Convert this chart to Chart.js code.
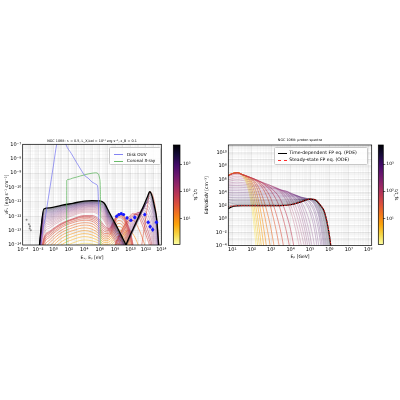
<!DOCTYPE html>
<html><head><meta charset="utf-8">
<script src="https://cdn.jsdelivr.net/npm/chart.js@4.4.1/dist/chart.umd.min.js"></script>
<style>
html,body{margin:0;padding:0;background:#fff;}
#wrap{position:relative;width:400px;height:400px;overflow:hidden;background:#fff;font-family:"DejaVu Sans",sans-serif;}
canvas{position:absolute;}
.legend{position:absolute;background:rgba(255,255,255,0.85);border:0.5px solid #c8c8c8;border-radius:1.5px;box-sizing:border-box;}
.legend .txt{position:absolute;white-space:nowrap;color:#000;line-height:5px;}
.legend .sw{position:absolute;height:0;}
</style></head>
<body><div id="wrap">
<canvas id="cL" width="168" height="145" style="left:0px;top:130px;width:168px;height:145px"></canvas>
<canvas id="cbL" width="32" height="145" style="left:168px;top:130px;width:32px;height:145px"></canvas>
<canvas id="cR" width="176" height="145" style="left:200px;top:130px;width:176px;height:145px"></canvas>
<canvas id="cbR" width="24" height="145" style="left:376px;top:130px;width:24px;height:145px"></canvas>

<div class="legend" style="left:109px;top:147px;width:52px;height:17.5px">
  <div class="sw" style="left:4px;top:6px;width:8.5px;border-top:0.8px solid rgba(100,100,240,0.8)"></div>
  <div class="txt" style="left:17px;top:3.5px;font-size:4.2px">Disk OUV</div>
  <div class="sw" style="left:4px;top:12.5px;width:8.5px;border-top:0.8px solid rgba(80,175,80,0.85)"></div>
  <div class="txt" style="left:17px;top:10px;font-size:4.2px">Coronal X-ray</div>
</div>
<div class="legend" style="left:274px;top:146.7px;width:94px;height:18.3px">
  <div class="sw" style="left:2.7px;top:5px;width:9.3px;border-top:1px solid #000"></div>
  <div class="txt" style="left:14.3px;top:2.5px;font-size:4.6px">Time-dependent FP eq. (PDE)</div>
  <div class="sw" style="left:2.7px;top:12.3px;width:9.3px;border-top:0.9px dashed #ff2a2a"></div>
  <div class="txt" style="left:14.3px;top:9.8px;font-size:4.6px">Steady-state FP eq. (ODE)</div>
</div>
</div>
<script>
// ================= DATA (log10 values) =================
// ---- Left panel: SED, x = log10(E / eV), y = log10(νFν / erg s^-1 cm^-2)
const diskLogE   = [-1.75, -1.62, -1.0, 0.0, 0.42, 0.9, 1.3, 1.6, 2.3, 3.0, 3.6, 4.1, 4.5, 5.0, 5.6, 5.75, 5.85, 5.95];
const diskLogF   = [-15, -14, -11.87, -8.44, -7.0, -6.3, -6.4, -7.0, -7.63, -8.27, -8.8, -9.2, -9.35, -9.62, -9.8, -10.0, -11.5, -16];
const coronaLogE = [1.70, 1.72, 1.9, 2.5, 3.0, 3.5, 4.0, 4.5, 5.0, 5.5, 5.8, 6.0, 6.1, 6.15];
const coronaLogF = [-16, -9.5, -9.45, -9.35, -9.28, -9.2, -9.13, -9.06, -9.01, -8.98, -9.05, -9.4, -10.5, -16];

// photon (gamma) spectra at successive times, log10(t/t_fs) in gammaLogT
const gammaLogE  = [-2.0, -1.25, -0.5, 1, 2.5, 4, 5, 6, 6.6, 7.2, 7.8, 8.4, 9.0, 9.6, 10.2, 10.8];
const gammaLogT  = [0.4, 0.55, 0.7, 0.82, 0.95, 1.08, 1.2, 1.33, 1.45, 1.52, 1.6, 1.68, 1.75, 1.9, 1.97, 2.05, 2.15, 2.25, 2.35, 2.45, 2.55, 2.65, 2.75, 2.85, 2.95, 3.05, 3.15, 3.25, 3.35, 3.45, 3.55];
const gammaLogF  = [
  [-16, -15.8, -15.3, -14.5, -14.1, -13.88, -13.92, -14.05, -14.2, -14.25, -14.0, -13.9, -14.1, -15.0, -16, -16],
  [-16, -15.55, -15.05, -14.25, -13.86, -13.65, -13.71, -13.9, -14.08, -14.1, -13.82, -13.65, -13.85, -14.7, -16, -16],
  [-16, -15.3, -14.8, -14.0, -13.62, -13.42, -13.5, -13.75, -13.95, -13.95, -13.65, -13.4, -13.6, -14.4, -16, -16],
  [-16, -15.05, -14.55, -13.78, -13.41, -13.21, -13.3, -13.58, -13.82, -13.8, -13.48, -13.18, -13.35, -14.15, -15.65, -16],
  [-16, -14.8, -14.3, -13.55, -13.2, -13.0, -13.1, -13.4, -13.7, -13.65, -13.3, -12.95, -13.1, -13.9, -15.3, -16],
  [-16, -14.58, -14.08, -13.35, -13.0, -12.81, -12.9, -13.25, -13.58, -13.52, -13.12, -12.72, -12.88, -13.65, -15.05, -16],
  [-16, -14.35, -13.85, -13.15, -12.8, -12.62, -12.7, -13.1, -13.45, -13.4, -12.95, -12.5, -12.65, -13.4, -14.8, -16],
  [-16, -14.15, -13.65, -12.98, -12.62, -12.45, -12.52, -12.95, -13.32, -13.3, -12.82, -12.3, -12.42, -13.18, -14.5, -16],
  [-16, -13.95, -13.45, -12.8, -12.45, -12.28, -12.35, -12.8, -13.2, -13.2, -12.7, -12.1, -12.2, -12.95, -14.2, -16],
  [-16, -13.82, -13.32, -12.7, -12.35, -12.17, -12.23, -12.65, -13.05, -13.1, -12.6, -12.0, -12.1, -12.82, -14.05, -16],
  [-16, -13.7, -13.2, -12.6, -12.25, -12.07, -12.12, -12.5, -12.9, -13.0, -12.5, -11.9, -12.0, -12.7, -13.9, -16],
  [-16, -13.6, -13.12, -12.55, -12.21, -12.01, -12.03, -12.37, -12.77, -12.92, -12.42, -11.87, -11.95, -12.6, -13.75, -15.8],
  [-16, -13.5, -13.05, -12.5, -12.18, -11.95, -11.95, -12.25, -12.65, -12.85, -12.35, -11.85, -11.9, -12.5, -13.6, -15.5],
  [-15.5, -13.2, -12.82, -12.3, -11.96, -11.73, -11.72, -11.95, -12.35, -13.0, -13.6, -14.2, -14.8, -15.4, -16, -16],
  [-15.5, -13.02, -12.68, -12.2, -11.88, -11.65, -11.64, -11.85, -12.23, -12.88, -13.48, -14.08, -14.7, -15.3, -16, -16],
  [-15.5, -12.85, -12.55, -12.1, -11.8, -11.58, -11.56, -11.75, -12.12, -12.77, -13.37, -13.97, -14.6, -15.2, -16, -16],
  [-15.2, -12.71, -12.44, -12.02, -11.73, -11.52, -11.5, -11.66, -12.02, -12.67, -13.27, -13.87, -14.5, -15.1, -15.8, -16],
  [-15, -12.58, -12.33, -11.94, -11.66, -11.46, -11.43, -11.58, -11.92, -12.57, -13.17, -13.77, -14.4, -15, -15.6, -16],
  [-15, -12.47, -12.24, -11.87, -11.6, -11.4, -11.37, -11.51, -11.83, -12.48, -13.08, -13.68, -14.32, -14.95, -15.55, -16],
  [-15, -12.36, -12.15, -11.8, -11.55, -11.35, -11.32, -11.44, -11.75, -12.4, -13.0, -13.6, -14.25, -14.9, -15.5, -16],
  [-15, -12.26, -12.07, -11.74, -11.5, -11.3, -11.27, -11.38, -11.67, -12.32, -12.92, -13.52, -14.17, -14.82, -15.45, -16],
  [-15, -12.17, -11.99, -11.68, -11.45, -11.26, -11.23, -11.32, -11.6, -12.25, -12.85, -13.45, -14.1, -14.75, -15.4, -16],
  [-15, -12.08, -11.92, -11.62, -11.4, -11.22, -11.19, -11.27, -11.53, -12.18, -12.78, -13.38, -14.03, -14.68, -15.35, -16],
  [-15, -12.0, -11.85, -11.57, -11.36, -11.18, -11.15, -11.22, -11.47, -12.12, -12.72, -13.32, -13.97, -14.6, -15.3, -16],
  [-15, -11.92, -11.78, -11.52, -11.32, -11.14, -11.11, -11.17, -11.41, -12.06, -12.66, -13.26, -13.91, -14.55, -15.25, -16],
  [-15, -11.85, -11.72, -11.47, -11.28, -11.11, -11.08, -11.13, -11.36, -12.0, -12.6, -13.2, -13.85, -14.5, -15.2, -16],
  [-15, -11.78, -11.66, -11.42, -11.24, -11.08, -11.05, -11.09, -11.31, -11.95, -12.55, -13.15, -13.8, -14.45, -15.15, -16],
  [-15, -11.72, -11.6, -11.38, -11.21, -11.05, -11.02, -11.05, -11.26, -11.9, -12.5, -13.1, -13.75, -14.4, -15.1, -16],
  [-15, -11.66, -11.55, -11.34, -11.18, -11.02, -10.99, -11.01, -11.21, -11.85, -12.45, -13.05, -13.7, -14.35, -15.05, -16],
  [-15, -11.6, -11.5, -11.31, -11.15, -11.0, -10.97, -10.98, -11.17, -11.8, -12.4, -13.0, -13.65, -14.3, -15, -16],
  [-15, -11.55, -11.46, -11.28, -11.12, -10.97, -10.94, -10.95, -11.13, -11.75, -12.35, -12.95, -13.6, -14.25, -15, -16]
];
const gammaFinalLogF = [-15, -11.5, -11.42, -11.25, -11.1, -10.95, -10.92, -10.93, -11.1, -11.7, -12.3, -12.9, -13.55, -14.2, -15, -16];

// neutrino spectra at successive times
const nuLogE = [8.0, 8.6, 9.2, 9.8, 10.4, 11.0, 11.6, 12.2, 12.5, 12.8, 13.1, 13.4, 13.6, 13.8];
const nuLogT = [0.9, 1.3, 1.5, 1.6, 1.72, 1.85, 1.97, 2.1, 2.25, 2.4, 2.55, 2.7, 2.85, 3.0, 3.15, 3.3, 3.5];
const nuLogF = [
  [-14.6, -13.8, -13.2, -13.0, -13.3, -14.0, -15.0, -16, -16, -16, -16, -16, -16, -16],
  [-14.0, -13.3, -12.7, -12.3, -12.3, -12.8, -13.6, -14.6, -15.2, -16, -16, -16, -16, -16],
  [-17, -17, -17, -17, -16.5, -15.5, -13.5, -11.3, -10.3, -10.45, -11.0, -12.1, -13.3, -14.8],
  [-13.9, -13.2, -12.6, -12.05, -11.8, -12.0, -12.7, -13.6, -14.1, -14.9, -16, -16, -16, -16],
  [-14.05, -13.38, -12.78, -12.22, -11.88, -11.88, -12.4, -13.25, -13.75, -14.5, -15.65, -16, -16, -16],
  [-14.2, -13.55, -12.95, -12.4, -11.95, -11.75, -12.1, -12.9, -13.4, -14.1, -15.3, -16, -16, -16],
  [-14.4, -13.75, -13.15, -12.58, -12.08, -11.75, -11.9, -12.55, -13.02, -13.7, -14.85, -16, -16, -16],
  [-14.6, -13.95, -13.35, -12.75, -12.2, -11.75, -11.7, -12.2, -12.65, -13.3, -14.4, -16, -16, -16],
  [-14.8, -14.12, -13.5, -12.88, -12.32, -11.82, -11.58, -11.85, -12.25, -12.85, -13.9, -15.4, -16, -16],
  [-15.0, -14.3, -13.65, -13.0, -12.45, -11.9, -11.45, -11.5, -11.85, -12.4, -13.4, -14.8, -16, -16],
  [-15.15, -14.45, -13.78, -13.12, -12.55, -11.98, -11.45, -11.28, -11.5, -12.0, -12.92, -14.25, -15.6, -16],
  [-15.3, -14.6, -13.9, -13.25, -12.65, -12.05, -11.45, -11.05, -11.15, -11.6, -12.45, -13.7, -15.2, -16],
  [-15.45, -14.75, -14.05, -13.38, -12.75, -12.12, -11.5, -11.0, -10.95, -11.35, -12.15, -13.3, -14.8, -16],
  [-15.6, -14.9, -14.2, -13.5, -12.85, -12.2, -11.55, -10.95, -10.75, -11.1, -11.85, -12.9, -14.4, -16],
  [-15.75, -15.05, -14.32, -13.6, -12.92, -12.25, -11.58, -10.9, -10.62, -10.95, -11.68, -12.65, -14.1, -15.6],
  [-15.9, -15.2, -14.45, -13.7, -13.0, -12.3, -11.6, -10.85, -10.5, -10.8, -11.5, -12.4, -13.8, -15.2],
  [-15.8, -15.1, -14.35, -13.6, -12.9, -12.2, -11.5, -10.75, -10.4, -10.7, -11.4, -12.3, -13.7, -15.1]
];
const nuFinalLogF = [-15.7, -15.0, -14.25, -13.5, -12.8, -12.1, -11.4, -10.65, -10.3, -10.6, -11.3, -12.2, -13.6, -15];

// observed points
const fermiLogE = [8.2, 8.5, 8.8, 9.1, 9.55, 10.05, 10.55];
const fermiLogF = [-12.0, -11.88, -11.82, -11.88, -12.12, -12.28, -12.08];
const fermiErr  = [0.12, 0.08, 0.07, 0.08, 0.1, 0.12, 0.15];
const magicLogE = [11.85, 12.3, 12.55, 12.88, 13.37];
const magicLogF = [-11.88, -12.42, -12.72, -12.93, -12.42];
const magicErr  = [0.14, 0.14, 0.15, 0.17, 0.16];
const radioLogE = [-3.5, -3.2, -3.05, -3.1, -2.95];
const radioLogF = [-12.25, -12.55, -12.7, -12.85, -12.98];

// ---- Right panel: proton spectra, x = log10(E_p / GeV), y = log10(E dN/dE/dV / cm^-3)
const protonLogE = [0.75, 1.0, 1.25, 1.5, 1.75, 2.0, 2.25, 2.5, 2.75, 3.0, 3.5, 4.0, 4.5, 5.0, 5.25, 5.5, 5.75, 6.0, 6.25];
const protonLogT = [0.25, 0.38, 0.5, 0.65, 0.8, 0.95, 1.1, 1.25, 1.4, 1.55, 1.7, 1.85, 2.0, 2.1, 2.2, 2.3, 2.4, 2.47, 2.55, 2.62, 2.7, 2.77, 2.85, 2.92, 3.0, 3.07, 3.15, 3.22, 3.3, 3.4, 3.5, 3.6];
const protonLogN = [
  [6.5, 6.85, 7.0, 6.55, 5.2, 1.8, -5, -14, -20, -20, -20, -20, -20, -20, -20, -20, -20, -20, -20],
  [6.5, 6.85, 7.0, 6.62, 5.6, 2.9, -2.6, -10, -17, -20, -20, -20, -20, -20, -20, -20, -20, -20, -20],
  [6.5, 6.85, 7.0, 6.68, 5.9, 3.8, -0.5, -7, -15, -20, -20, -20, -20, -20, -20, -20, -20, -20, -20],
  [6.5, 6.85, 7.0, 6.7, 6.12, 4.6, 1.2, -4.2, -11, -17, -20, -20, -20, -20, -20, -20, -20, -20, -20],
  [6.5, 6.85, 7.0, 6.72, 6.3, 5.2, 2.8, -1.5, -7.5, -15, -20, -20, -20, -20, -20, -20, -20, -20, -20],
  [6.5, 6.85, 7.0, 6.73, 6.37, 5.6, 3.9, 0.6, -4, -10, -18, -20, -20, -20, -20, -20, -20, -20, -20],
  [6.5, 6.85, 7.0, 6.73, 6.42, 5.9, 4.8, 2.6, -0.8, -5, -16, -20, -20, -20, -20, -20, -20, -20, -20],
  [6.5, 6.85, 7.0, 6.73, 6.44, 6.05, 5.3, 3.8, 1.5, -1.6, -10.5, -18, -20, -20, -20, -20, -20, -20, -20],
  [6.5, 6.85, 7.0, 6.73, 6.46, 6.15, 5.7, 4.9, 3.6, 1.5, -5.5, -16, -20, -20, -20, -20, -20, -20, -20],
  [6.5, 6.85, 7.0, 6.73, 6.47, 6.18, 5.82, 5.25, 4.35, 3.0, -2.0, -10.5, -18, -20, -20, -20, -20, -20, -20],
  [6.5, 6.85, 6.99, 6.73, 6.47, 6.2, 5.9, 5.5, 4.95, 4.2, 1.2, -5, -15, -20, -20, -20, -20, -20, -20],
  [6.42, 6.75, 6.88, 6.68, 6.44, 6.18, 5.9, 5.56, 5.15, 4.65, 2.8, -1.6, -10, -18, -20, -20, -20, -20, -20],
  [6.3, 6.6, 6.72, 6.6, 6.4, 6.15, 5.88, 5.6, 5.32, 5.0, 4.0, 1.2, -5, -15, -20, -20, -20, -20, -20],
  [6.1, 6.35, 6.46, 6.38, 6.2, 6.0, 5.78, 5.54, 5.29, 5.01, 4.2, 2.1, -3.2, -12.5, -20, -20, -20, -20, -20],
  [5.9, 6.1, 6.2, 6.15, 6.0, 5.85, 5.68, 5.48, 5.26, 5.02, 4.35, 2.9, -1.5, -10, -20, -20, -20, -20, -20],
  [5.65, 5.8, 5.88, 5.82, 5.71, 5.58, 5.44, 5.27, 5.09, 4.9, 4.38, 3.3, -0.2, -8, -16, -20, -20, -20, -20],
  [5.4, 5.5, 5.55, 5.5, 5.42, 5.32, 5.2, 5.06, 4.92, 4.77, 4.4, 3.7, 1.0, -6, -12, -20, -20, -20, -20],
  [5.2, 5.28, 5.3, 5.27, 5.2, 5.12, 5.02, 4.92, 4.8, 4.68, 4.38, 3.82, 1.75, -4.2, -9.5, -17, -20, -20, -20],
  [5.0, 5.05, 5.06, 5.03, 4.98, 4.92, 4.85, 4.77, 4.68, 4.58, 4.35, 3.95, 2.5, -2.5, -7, -14, -20, -20, -20],
  [4.75, 4.78, 4.79, 4.77, 4.72, 4.68, 4.62, 4.56, 4.48, 4.4, 4.22, 3.9, 2.85, -0.7, -4.5, -10.8, -17.5, -20, -20],
  [4.5, 4.52, 4.52, 4.5, 4.47, 4.43, 4.39, 4.34, 4.29, 4.23, 4.08, 3.85, 3.2, 1.0, -2.0, -7.5, -15, -20, -20],
  [4.25, 4.27, 4.27, 4.25, 4.22, 4.2, 4.16, 4.12, 4.08, 4.03, 3.92, 3.74, 3.28, 1.65, -0.65, -5.1, -12, -19, -20],
  [4.0, 4.02, 4.02, 4.0, 3.98, 3.96, 3.93, 3.9, 3.87, 3.84, 3.76, 3.62, 3.35, 2.3, 0.7, -2.8, -9, -18, -20],
  [3.72, 3.76, 3.76, 3.75, 3.74, 3.72, 3.7, 3.68, 3.66, 3.64, 3.58, 3.5, 3.32, 2.58, 1.35, -1.55, -7.2, -16, -20],
  [3.45, 3.5, 3.5, 3.5, 3.49, 3.48, 3.47, 3.46, 3.45, 3.44, 3.41, 3.37, 3.3, 2.85, 2.0, -0.3, -5.5, -14, -20],
  [3.2, 3.25, 3.26, 3.26, 3.25, 3.24, 3.23, 3.23, 3.22, 3.21, 3.2, 3.18, 3.18, 2.9, 2.2, 0.25, -4.2, -12, -20],
  [2.95, 3.0, 3.02, 3.02, 3.02, 3.01, 3.0, 3.0, 2.99, 2.99, 2.99, 3.0, 3.05, 2.95, 2.4, 0.8, -3.0, -10, -20],
  [2.7, 2.78, 2.8, 2.8, 2.8, 2.8, 2.79, 2.79, 2.78, 2.78, 2.8, 2.84, 2.98, 2.98, 2.52, 1.2, -2.0, -8.2, -17.5],
  [2.45, 2.55, 2.58, 2.58, 2.58, 2.58, 2.58, 2.58, 2.58, 2.58, 2.6, 2.68, 2.9, 3.0, 2.65, 1.6, -1.0, -6.5, -15],
  [2.18, 2.33, 2.39, 2.4, 2.4, 2.4, 2.4, 2.4, 2.4, 2.4, 2.42, 2.53, 2.8, 3.0, 2.75, 1.8, -0.35, -5.1, -13],
  [1.9, 2.1, 2.2, 2.22, 2.22, 2.22, 2.22, 2.22, 2.22, 2.22, 2.25, 2.38, 2.7, 3.0, 2.85, 2.0, 0.3, -3.8, -11],
  [1.7, 1.98, 2.08, 2.11, 2.11, 2.11, 2.11, 2.11, 2.11, 2.11, 2.13, 2.26, 2.62, 3.0, 2.88, 2.1, 0.65, -3.1, -9.7]
];
const protonFinalLogN  = [1.5, 1.85, 1.97, 2.0, 2.0, 2.0, 2.0, 2.0, 2.0, 2.0, 2.02, 2.15, 2.55, 3.0, 2.92, 2.2, 1.0, -2.5, -8.5];
const protonSteadyLogN = [1.85, 1.95, 2.0, 2.0, 2.0, 2.0, 2.0, 2.0, 2.0, 2.0, 2.02, 2.15, 2.55, 3.0, 2.95, 2.25, 1.05, -2.4, -8.4];

// ---- tick labels (exponents) and colorbar range
const leftXTickExps  = [-4, -2, 0, 2, 4, 6, 8, 10, 12, 14];
const leftYTickExps  = [-14, -13, -12, -11, -10, -9, -8, -7];
const rightXTickExps = [1, 2, 3, 4, 5, 6, 7, 8];
const rightYTickExps = [-4, -2, 0, 2, 4, 6, 8, 10];
const cbarTickExps   = [1, 2, 3];
const cbarMin = 1.1, cbarMax = 5000;

// ================= STYLE / HELPERS =================
const FONT = 'DejaVu Sans';
Chart.defaults.font.family = FONT;
Chart.defaults.color = '#000';
const INFERNO = [[0,0,4],[22,11,57],[66,10,104],[106,23,110],[147,38,103],[188,55,84],[221,81,58],[243,120,25],[252,165,10],[246,215,70],[252,255,164]];
function inferno(f){ f=Math.min(1,Math.max(0,f)); const p=f*10; const i=Math.min(9,Math.floor(p)); const t=p-i; const a=INFERNO[i], b=INFERNO[i+1]; return a.map((v,k)=>Math.round(v+(b[k]-v)*t)); }
const CB_LO = Math.log10(cbarMin), CB_HI = Math.log10(cbarMax);
function timeColor(logT, alpha){ const c = inferno(1 - (logT - CB_LO)/(CB_HI - CB_LO)); return `rgba(${c[0]},${c[1]},${c[2]},${alpha})`; }
const SUP = {'-':'⁻','0':'⁰','1':'¹','2':'²','3':'³','4':'⁴','5':'⁵','6':'⁶','7':'⁷','8':'⁸','9':'⁹'};
const sup = n => String(n).split('').map(c=>SUP[c]).join('');
function isDecade(v){ const e=Math.log10(v); return Math.abs(e-Math.round(e))<1e-6; }
function gridTicks(lo, hi, min, max){ const t=[]; for(let e=lo;e<=hi;e++){ for(let m=1;m<10;m++){ const v=m*Math.pow(10,e); if(v>=min*0.999999 && v<=max*1.000001) t.push({value:v}); } } return t; }
function labelCb(exps){ return v => { if(!isDecade(v)) return ''; const e=Math.round(Math.log10(v)); return exps.includes(e) ? '10'+sup(e) : ''; }; }
const gridColor = ctx => (ctx.tick && isDecade(ctx.tick.value)) ? 'rgba(0,0,0,0.13)' : 'rgba(0,0,0,0.05)';
const pts = (xs, ys) => xs.map((x,i)=>({x: Math.pow(10,x), y: Math.pow(10, ys[i])}));

function line(xs, ys, color, width, order, extra){
  return Object.assign({ data: pts(xs, ys), borderColor: color, borderWidth: width, pointRadius: 0,
    cubicInterpolationMode: 'monotone', fill: false, order: order }, extra || {});
}
function family(xs, rows, taus){
  return rows.map((r,i)=>line(xs, r, timeColor(taus[i], taus[i] < 1.9 ? 0.7 : 0.45), taus[i] < 1.9 ? 0.8 : 0.6, 100 - Math.round(taus[i]*10)));
}
const framePlugin = { id:'frame', afterDatasetsDraw(chart){ const {ctx, chartArea:a} = chart; ctx.save(); ctx.strokeStyle='#000'; ctx.lineWidth=0.7; ctx.strokeRect(a.left, a.top, a.right-a.left, a.bottom-a.top); ctx.restore(); } };

function logAxis(opts){
  return { type:'logarithmic', min: opts.min, max: opts.max, position: opts.position,
    afterBuildTicks: s => { s.ticks = gridTicks(opts.lo, opts.hi, opts.min, opts.max); },
    afterFit: opts.fit,
    ticks: { autoSkip:false, maxRotation:0, minRotation:0, padding:1.5, font:{family:FONT,size:5}, color:'#000', callback: labelCb(opts.exps) },
    grid: { color: gridColor, lineWidth: 0.5, drawTicks: false },
    border: { display:false },
    title: { display:true, text: opts.title, font:{family:FONT,size:4.5}, color:'#000', padding: opts.tpad } };
}

// ================= LEFT PANEL =================
const leftSets = [];
leftSets.push(...family(gammaLogE, gammaLogF, gammaLogT));
leftSets.push(...family(nuLogE, nuLogF, nuLogT));
leftSets.push(line(gammaLogE, gammaFinalLogF, '#000', 1.3, 3));
leftSets.push(line(nuLogE, nuFinalLogF, '#000', 1.3, 3));
leftSets.push(line(diskLogE, diskLogF, 'rgba(100,100,240,0.8)', 0.8, 2));
leftSets.push(line(coronaLogE, coronaLogF, 'rgba(80,175,80,0.85)', 0.8, 2));
fermiLogE.forEach((x,i)=>leftSets.push(line([x,x],[fermiLogF[i]-fermiErr[i], fermiLogF[i]+fermiErr[i]], '#1a1aff', 0.7, 1, {cubicInterpolationMode:'default', tension:0})));
magicLogE.forEach((x,i)=>leftSets.push(line([x,x],[magicLogF[i]-magicErr[i], magicLogF[i]+magicErr[i]], '#1a1aff', 0.7, 1, {cubicInterpolationMode:'default', tension:0})));
leftSets.push({ data: pts(fermiLogE.concat(magicLogE), fermiLogF.concat(magicLogF)), showLine:false, pointRadius:1.6, pointBorderWidth:0, pointBackgroundColor:'#1a1aff', order:0 });
leftSets.push({ data: pts(radioLogE, radioLogF), showLine:false, pointRadius:1.0, pointBorderWidth:0, pointBackgroundColor:'#8a8a8a', order:0 });

new Chart(document.getElementById('cL'), {
  type:'line', data:{ datasets: leftSets },
  options:{ responsive:false, animation:false, devicePixelRatio:1,
    layout:{ padding:{ left:0, right:6.3, top:0, bottom:0 } },
    plugins:{ legend:{display:false}, tooltip:{enabled:false},
      title:{ display:true, fullSize:false, text:'NGC 1068: rₜ = 0.5, L_X,bol = 10⁴⁴ erg s⁻¹, ε_B = 0.1', font:{family:FONT,size:3.4,weight:'normal'}, color:'#000', padding:{top:8.96,bottom:1.26} } },
    scales:{
      x: logAxis({min:1e-4, max:1e14, lo:-4, hi:14, exps:leftXTickExps, position:'bottom', fit: s=>{ s.height = 30; }, title:'Eᵥ, Eᵧ [eV]', tpad:{top:0,bottom:14.8}}),
      y: logAxis({min:1e-14, max:1e-7, lo:-14, hi:-7, exps:leftYTickExps, position:'left', fit: s=>{ s.width = 22.7; }, title:'νFᵥ [erg s⁻¹ cm⁻²]', tpad:{top:4.36,bottom:0}})
    } },
  plugins:[framePlugin]
});

// ================= RIGHT PANEL =================
const rightSets = [];
rightSets.push(...family(protonLogE, protonLogN, protonLogT));
rightSets.push(line(protonLogE, protonFinalLogN, '#000', 1.2, 3));
rightSets.push(line(protonLogE, protonSteadyLogN, '#ff2a2a', 0.9, 2, {borderDash:[1.6,1.1]}));

new Chart(document.getElementById('cR'), {
  type:'line', data:{ datasets: rightSets },
  options:{ responsive:false, animation:false, devicePixelRatio:1,
    layout:{ padding:{ left:0, right:4.3, top:0, bottom:0 } },
    plugins:{ legend:{display:false}, tooltip:{enabled:false},
      title:{ display:true, fullSize:false, text:'NGC 1068: proton spectra', font:{family:FONT,size:3.4,weight:'normal'}, color:'#000', padding:{top:7.96,bottom:2.96} } },
    scales:{
      x: logAxis({min:6.22, max:1.5e8, lo:0, hi:8, exps:rightXTickExps, position:'bottom', fit: s=>{ s.height = 29.5; }, title:'Eₚ [GeV]', tpad:{top:0,bottom:15}}),
      y: logAxis({min:1e-4, max:1.45e11, lo:-4, hi:11, exps:rightYTickExps, position:'left', fit: s=>{ s.width = 28.3; }, title:'EdN/dEdV [cm⁻³]', tpad:{top:4.06,bottom:0}})
    } },
  plugins:[framePlugin]
});

// ================= COLORBARS =================
function colorbar(id, padLeft, axisWidth, titlePad){
  new Chart(document.getElementById(id), {
    type:'bar',
    data:{ labels:[''], datasets:[{ data:[[cbarMin, cbarMax]], borderWidth:0, barPercentage:1, categoryPercentage:1,
      backgroundColor: ctx => { const a = ctx.chart.chartArea; if(!a) return '#000'; const g = ctx.chart.ctx.createLinearGradient(0, a.bottom, 0, a.top);
        for(let i=0;i<=10;i++){ const c = inferno(1 - i/10); g.addColorStop(i/10, `rgb(${c[0]},${c[1]},${c[2]})`); } return g; } }] },
    options:{ responsive:false, animation:false, devicePixelRatio:1,
      layout:{ padding:{ left:padLeft, right:0, top:15, bottom:30.5 } },
      plugins:{ legend:{display:false}, tooltip:{enabled:false} },
      scales:{ x:{ display:false },
        y:{ type:'logarithmic', position:'right', min:cbarMin, max:cbarMax,
          afterBuildTicks: s => { s.ticks = cbarTickExps.map(e=>({value: Math.pow(10,e)})); },
          afterFit: s => { s.width = axisWidth; },
          ticks:{ autoSkip:false, padding:1, font:{family:FONT,size:4.5}, color:'#000', callback: v => '10'+sup(Math.round(Math.log10(v))) },
          grid:{ drawOnChartArea:false, drawTicks:true, tickLength:2, color:'#000', lineWidth:0.6 },
          border:{ display:false },
          title:{ display:true, text:'t/t_fs', font:{family:FONT,size:4.5}, color:'#000', padding:{top:titlePad,bottom:0} } } } },
    plugins:[framePlugin]
  });
}
colorbar('cbL', 5.3, 20, 2.3);
colorbar('cbR', 2.3, 16.7, 1.3);
</script>
</body></html>
